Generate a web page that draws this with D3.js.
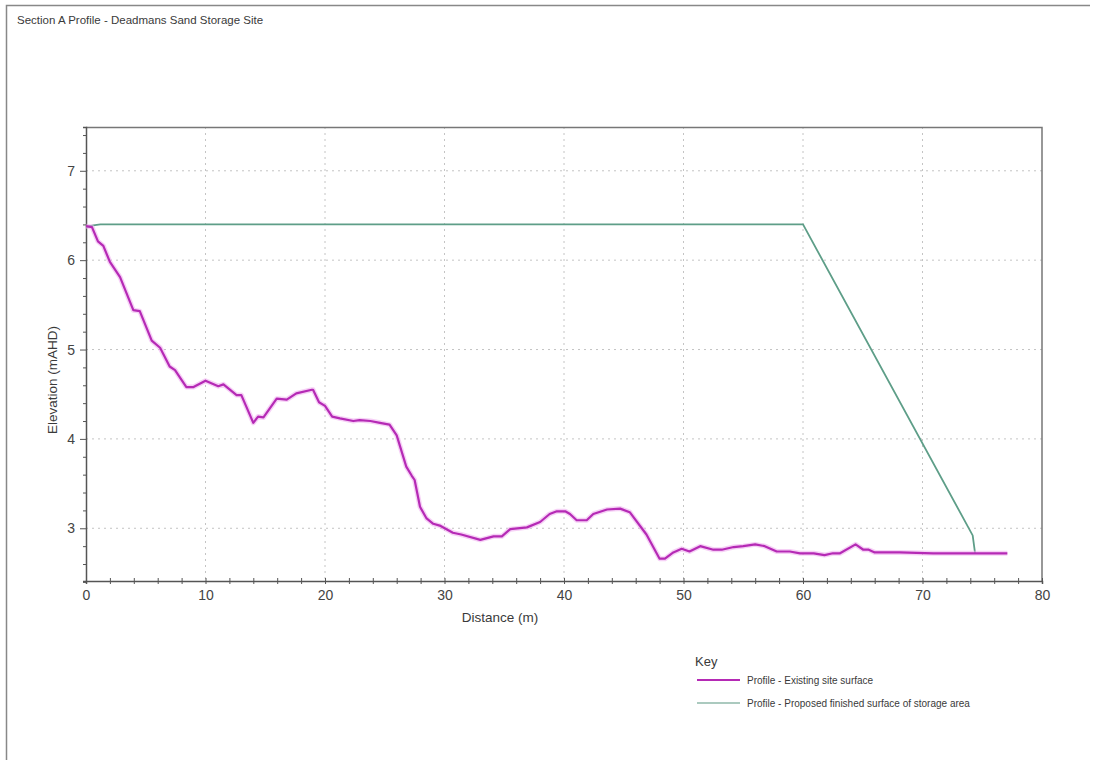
<!DOCTYPE html>
<html>
<head>
<meta charset="utf-8">
<script src="https://cdn.jsdelivr.net/npm/d3@7"></script>
<style>
  body { margin: 0; background: #fff; }
  svg { font-family: "Liberation Sans", Arial, sans-serif; }
</style>
</head>
<body>
<div id="chart"></div>
<script>
// Existing site surface: [distance (m), elevation (mAHD)]
const existingSurface = [
  [0, 6.38], [0.5, 6.37], [1.0, 6.21], [1.45, 6.16], [2.0, 5.98], [2.85, 5.81],
  [3.96, 5.44], [4.5, 5.43], [5.5, 5.1], [6.2, 5.02], [7.0, 4.81], [7.45, 4.77],
  [8.4, 4.58], [9.0, 4.58], [10.0, 4.65], [11.07, 4.59], [11.5, 4.61], [12.6, 4.49],
  [13.0, 4.49], [14.0, 4.18], [14.4, 4.25], [14.85, 4.24], [15.96, 4.45], [16.8, 4.44],
  [17.6, 4.51], [18.9, 4.55], [19.0, 4.55], [19.5, 4.41], [20.0, 4.37], [20.6, 4.25],
  [21.25, 4.23], [22.37, 4.2], [22.9, 4.21], [23.8, 4.2], [24.6, 4.18], [25.4, 4.16],
  [26.0, 4.04], [26.8, 3.69], [27.25, 3.59], [27.5, 3.54], [27.95, 3.24], [28.5, 3.11],
  [29.06, 3.05], [29.6, 3.03], [30.7, 2.95], [31.4, 2.93], [33.0, 2.87], [34.1, 2.91],
  [34.8, 2.91], [35.5, 2.99], [36.9, 3.01], [38.0, 3.07], [38.8, 3.16], [39.4, 3.19],
  [40.1, 3.19], [40.5, 3.16], [41.06, 3.09], [41.9, 3.09], [42.45, 3.16], [43.6, 3.21],
  [44.7, 3.22], [45.5, 3.18], [46.9, 2.93], [48.0, 2.66], [48.45, 2.66], [49.15, 2.73],
  [49.85, 2.77], [50.5, 2.74], [51.4, 2.8], [52.5, 2.76], [53.2, 2.76], [54.2, 2.79],
  [55.0, 2.8], [56.0, 2.82], [56.8, 2.8], [57.8, 2.74], [58.9, 2.74], [59.75, 2.72],
  [60.9, 2.72], [61.8, 2.7], [62.5, 2.72], [63.1, 2.72], [64.4, 2.82], [65.05, 2.76],
  [65.5, 2.76], [66.0, 2.73], [68.1, 2.73], [70.9, 2.72], [74.4, 2.72], [77.1, 2.72]
];

// Proposed finished surface of storage area
const proposedSurface = [
  [0, 6.37], [0.6, 6.39], [1.2, 6.4], [60, 6.4], [74.2, 2.92], [74.4, 2.72]
];

const xMajorTicks = [0, 10, 20, 30, 40, 50, 60, 70, 80];
const yMajorTicks = [3, 4, 5, 6, 7];
const legendLabels = ["Profile - Existing site surface", "Profile - Proposed finished surface of storage area"];

const W = 1096, H = 760;
const margin = { top: 127, right: 54, bottom: 179, left: 86 };
const width = W - margin.left - margin.right;
const height = H - margin.top - margin.bottom;

const svg = d3.select("#chart").append("svg").attr("width", W).attr("height", H);

// Outer frame
svg.append("path").attr("d", `M6.5,${H} V5.5 H1090`).attr("fill", "none").attr("stroke", "#888").attr("stroke-width", 1.5);

svg.append("text").attr("x", 17).attr("y", 24).attr("font-size", 11.5).attr("fill", "#3a3a3a")
  .text("Section A Profile - Deadmans Sand Storage Site");

const g = svg.append("g").attr("transform", `translate(${margin.left},${margin.top})`);

const x = d3.scaleLinear().domain([0, 80]).range([0, width]);
const y = d3.scaleLinear().domain([2.41, 7.49]).range([height, 0]);

// Grid
g.append("g").selectAll("line").data(xMajorTicks.slice(1, -1)).join("line")
  .attr("x1", d => x(d)).attr("x2", d => x(d)).attr("y1", 0).attr("y2", height)
  .attr("stroke", "#c4c4c4").attr("stroke-dasharray", "2,4");
g.append("g").selectAll("line").data(yMajorTicks).join("line")
  .attr("x1", 0).attr("x2", width).attr("y1", d => y(d)).attr("y2", d => y(d))
  .attr("stroke", "#c4c4c4").attr("stroke-dasharray", "2,4");

// Plot frame top and right
g.append("path").attr("d", `M0,0.5 H${width} V${height}`).attr("fill", "none").attr("stroke", "#777").attr("stroke-width", 1.5);

// Axes
const xAxis = g.append("g").attr("transform", `translate(0,${height})`)
  .call(d3.axisBottom(x).tickValues(d3.range(0, 81, 2)).tickSize(3).tickFormat(d => d % 10 === 0 ? d : ""));
xAxis.selectAll(".tick line").attr("y1", -3).attr("stroke", "#555");
xAxis.select(".domain").attr("stroke", "#555").attr("stroke-width", 1.5);
xAxis.selectAll("text").attr("font-size", 14).attr("fill", "#444").attr("dy", "0.9em").attr("font-family", "Liberation Sans, Arial, sans-serif");

const yAxis = g.append("g")
  .call(d3.axisLeft(y).tickValues(d3.range(24, 75, 2).map(v => v / 10)).tickSize(3)
    .tickFormat(d => Math.abs(d - Math.round(d)) < 1e-6 ? Math.round(d) : ""));
yAxis.selectAll(".tick line").attr("stroke", "#555")
  .attr("x2", d => Math.abs(d - Math.round(d)) < 1e-6 ? -6 : -3);
yAxis.select(".domain").attr("stroke", "#555").attr("stroke-width", 1.5);
yAxis.selectAll("text").attr("font-size", 14).attr("fill", "#444").attr("x", -11).attr("font-family", "Liberation Sans, Arial, sans-serif");

// Axis titles
svg.append("text").attr("transform", "translate(57,380) rotate(-90)").attr("text-anchor", "middle")
  .attr("font-size", 13.5).attr("fill", "#3a3a3a").text("Elevation (mAHD)");
svg.append("text").attr("x", 500).attr("y", 622).attr("text-anchor", "middle")
  .attr("font-size", 13.5).attr("fill", "#3a3a3a").text("Distance (m)");

// Lines
const line = d3.line().x(d => x(d[0])).y(d => y(d[1]));

g.append("path").datum(proposedSurface).attr("fill", "none").attr("stroke", "#5e9e88").attr("stroke-width", 1.8).attr("d", line);

g.append("path").datum(existingSurface).attr("fill", "none").attr("stroke", "#eeaaee").attr("stroke-width", 5).attr("stroke-opacity", 0.55).attr("stroke-linejoin", "round").attr("d", line);
g.append("path").datum(existingSurface).attr("fill", "none").attr("stroke", "#b52ab5").attr("stroke-width", 2.2).attr("stroke-linejoin", "round").attr("d", line);

// Legend
const legend = svg.append("g").attr("transform", "translate(695,0)");
legend.append("text").attr("x", 0).attr("y", 666).attr("font-size", 13).attr("fill", "#3a3a3a").text("Key");
const legendColors = ["#b52ab5", "#8fb8aa"];
legendLabels.forEach((label, i) => {
  const ly = 680 + i * 23;
  legend.append("line").attr("x1", 2).attr("x2", 45).attr("y1", ly).attr("y2", ly)
    .attr("stroke", legendColors[i]).attr("stroke-width", i === 0 ? 2.2 : 1.6);
  legend.append("text").attr("x", 52).attr("y", ly + 3.5).attr("font-size", 10).attr("fill", "#3a3a3a").text(label);
});
</script>
</body>
</html>
